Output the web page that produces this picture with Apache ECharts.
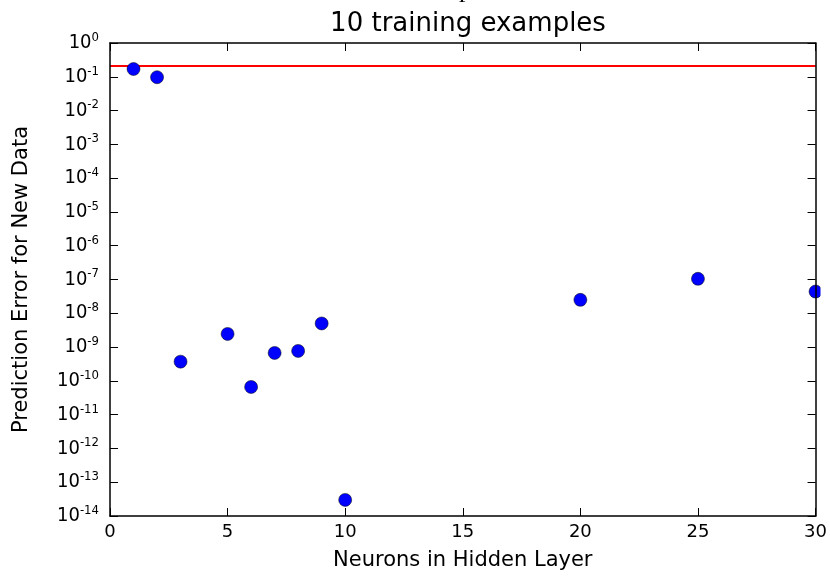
<!DOCTYPE html>
<html>
<head>
<meta charset="utf-8">
<script src="https://cdn.jsdelivr.net/npm/echarts@6/dist/echarts.min.js"></script>
<style>html,body{margin:0;padding:0;background:#fff}#c{width:830px;height:578px}</style>
</head>
<body>
<div id="c"></div>
<script>
// Data
var neurons = [1, 2, 3, 5, 6, 7, 8, 9, 10, 20, 25, 30];
var predictionError = [0.17, 0.097, 3.7e-10, 2.45e-9, 6.6e-11, 6.7e-10, 7.7e-10, 5e-9, 3e-14, 2.5e-8, 1.05e-7, 4.4e-8];
var thresholdX = [0, 30];
var thresholdY = [0.21, 0.21];
var xTicks = [0, 5, 10, 15, 20, 25, 30];
var yExponents = [0, -1, -2, -3, -4, -5, -6, -7, -8, -9, -10, -11, -12, -13, -14];

var FONT = 'DejaVu Sans';
var FONTC = 'DejaVu Sans Condensed';
var chart = echarts.init(document.getElementById('c'));

var pts = neurons.map(function (x, i) { return [x, predictionError[i]]; });
var line = thresholdX.map(function (x, i) { return [x, thresholdY[i]]; });

function yLabel(v) {
  var e = Math.round(Math.log10(v));
  return '{b|10}{s|' + e + '}';
}

function axisCommon(z) {
  return {
    z: z,
    axisLine: { show: true, onZero: false, lineStyle: { color: '#000', width: 1.5 } },
    axisTick: { show: true, inside: true, length: 8, lineStyle: { color: '#000', width: 1 } },
    splitLine: { show: false }
  };
}

chart.setOption({
  animation: false,
  title: {
    text: '10 training examples',
    left: 463, top: 6, textAlign: 'center',
    textStyle: { fontFamily: FONT, fontSize: 26, fontWeight: 'normal', color: '#000' }
  },
  graphic: [
    {
      type: 'text', left: 459, top: -23,
      style: { text: 'p', fontFamily: 'Liberation Serif', fontSize: 26, fill: '#000' }
    },
    {
      type: 'rect', z: 50,
      shape: { x: 820.5, y: 30, width: 10, height: 485 },
      style: { fill: '#fff' }
    }
  ],
  grid: { left: 110, right: 11, top: 43, bottom: 62 },
  xAxis: [
    Object.assign({
      type: 'value', min: 0, max: 30, interval: 5,
      name: 'Neurons in Hidden Layer', nameLocation: 'middle', nameGap: 34,
      nameTextStyle: { fontFamily: FONT, fontSize: 21, color: '#000' },
      axisLabel: { fontFamily: FONT, fontSize: 18, color: '#000', margin: 7 }
    }, axisCommon(60)),
    Object.assign({
      type: 'value', min: 0, max: 30, interval: 5, position: 'top',
      axisLabel: { show: false }
    }, axisCommon(60))
  ],
  yAxis: [
    Object.assign({
      type: 'log', logBase: 10, min: 1e-14, max: 1, interval: 1,
      name: 'Prediction Error for New Data', nameLocation: 'middle', nameGap: 78,
      nameTextStyle: { fontFamily: FONT, fontSize: 21, color: '#000' },
      axisLabel: {
        margin: 11, formatter: yLabel,
        rich: {
          b: { fontFamily: FONTC, fontSize: 20, color: '#000', lineHeight: 24 },
          s: { fontFamily: FONTC, fontSize: 13, color: '#000', verticalAlign: 'top', lineHeight: 13 }
        }
      },
      minorTick: { show: false }
    }, axisCommon(60)),
    Object.assign({
      type: 'log', logBase: 10, min: 1e-14, max: 1, interval: 1, position: 'right',
      axisLabel: { show: false }
    }, axisCommon(60))
  ],
  series: [
    {
      type: 'line', data: line, xAxisIndex: 0, yAxisIndex: 0,
      symbol: 'none', lineStyle: { color: '#ff0000', width: 2 }, z: 2
    },
    {
      type: 'scatter', data: pts, xAxisIndex: 0, yAxisIndex: 0, clip: true,
      symbol: 'circle', symbolSize: 13,
      itemStyle: { color: '#0000ff', borderColor: '#000', borderWidth: 0.5, opacity: 1 }, z: 3
    }
  ]
});
</script>
</body>
</html>
